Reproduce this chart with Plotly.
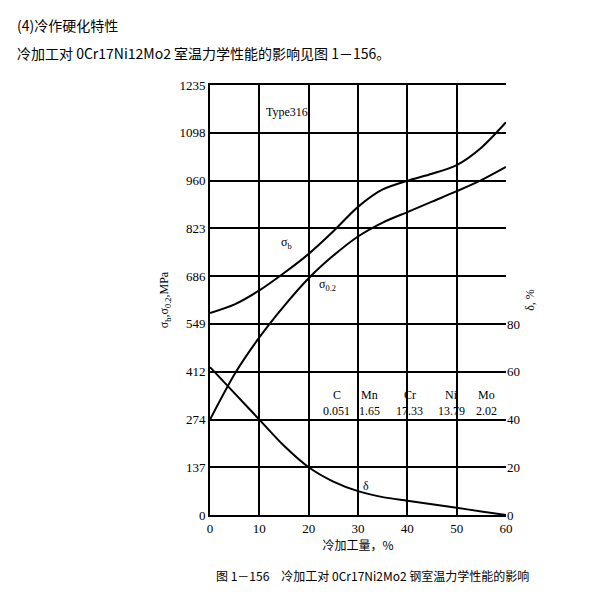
import plotly.graph_objects as go

x = [0, 5, 10, 15, 20, 25, 30, 35, 40, 45, 50, 55, 60]
sigma_b = [580, 605, 645, 695, 750, 815, 885, 935, 960, 980, 1005, 1055, 1128]
sigma_02 = [274, 405, 510, 600, 680, 745, 800, 840, 870, 900, 930, 962, 1000]
delta = [62, 51, 40, 29, 20, 14, 10, 7.5, 6, 4.5, 3, 1.5, 0]
left_ticks = [0, 137, 274, 412, 549, 686, 823, 960, 1098, 1235]
right_ticks = [0, 20, 40, 60, 80]
elements = ["C", "Mn", "Cr", "Ni", "Mo"]
contents = ["0.051", "1.65", "17.33", "13.79", "2.02"]
elem_x = [25.7, 32.4, 40.5, 49, 56]

SERIF = "Liberation Serif"
CJK = "Noto Sans CJK SC"
line = dict(color="black", width=2, shape="spline", smoothing=0.8)

fig = go.Figure()
fig.add_trace(go.Scatter(x=x, y=sigma_b, mode="lines", line=line))
fig.add_trace(go.Scatter(x=x, y=sigma_02, mode="lines", line=line))
fig.add_trace(go.Scatter(x=x, y=delta, mode="lines", line=line, yaxis="y2"))

anns = []
for e, c, ex in zip(elements, contents, elem_x):
    anns.append(dict(x=ex, y=345, text=e, showarrow=False, font=dict(family=SERIF, size=12, color="black")))
    anns.append(dict(x=ex, y=299, text=c, showarrow=False, font=dict(family=SERIF, size=12, color="black")))
anns += [
    dict(x=15.6, y=1157, text="Type316", showarrow=False, font=dict(family=SERIF, size=12, color="black")),
    dict(x=15.6, y=781, text="σ<sub>b</sub>", showarrow=False, font=dict(family=SERIF, size=12, color="black")),
    dict(x=23.8, y=660, text="σ<sub>0.2</sub>", showarrow=False, font=dict(family=SERIF, size=12, color="black")),
    dict(x=31.6, y=83, text="δ", showarrow=False, font=dict(family=SERIF, size=12, color="black")),
    dict(xref="paper", yref="paper", x=-0.66, y=1.14, xanchor="left", yanchor="middle", text="(4)冷作硬化特性", showarrow=False,
         font=dict(family=CJK, size=14, color="black")),
    dict(xref="paper", yref="paper", x=-0.66, y=1.074, xanchor="left", yanchor="middle",
         text="冷加工对 0Cr17Ni12Mo2 室温力学性能的影响见图 1－156。", showarrow=False,
         font=dict(family=CJK, size=14, color="black")),
    dict(xref="paper", yref="paper", x=0.55, y=-0.165, text="图 1－156　冷加工对 0Cr17Ni2Mo2 钢室温力学性能的影响",
         showarrow=False, font=dict(family=CJK, size=12, color="black")),
]

fig.update_layout(
    width=590, height=606, margin=dict(l=202, r=92, t=77, b=99),
    paper_bgcolor="white", plot_bgcolor="white", showlegend=False,
    xaxis=dict(range=[0, 60], tickvals=[0, 10, 20, 30, 40, 50, 60], showgrid=True, gridcolor="black", gridwidth=2,
               zeroline=False, showline=True, linecolor="black", linewidth=2, mirror=True,
               tickfont=dict(family=SERIF, size=13, color="black"),
               title=dict(text="冷加工量，%", font=dict(family=CJK, size=12, color="black"), standoff=2)),
    yaxis=dict(range=[0, 1235], tickvals=left_ticks, showgrid=True, gridcolor="black", gridwidth=2,
               zeroline=False, showline=True, linecolor="black", linewidth=2,
               tickfont=dict(family=SERIF, size=13, color="black"),
               title=dict(text="σ<sub>b</sub>,σ<sub>0.2</sub>,MPa", font=dict(family=SERIF, size=12, color="black"), standoff=8)),
    yaxis2=dict(range=[0, 180.3], tickvals=right_ticks, overlaying="y", side="right", showgrid=False,
                zeroline=False, showline=False, tickfont=dict(family=SERIF, size=13, color="black"),
                title=dict(text="δ, %", font=dict(family=SERIF, size=12, color="black"), standoff=6)),
    annotations=anns,
)
fig.write_html("out.html")
